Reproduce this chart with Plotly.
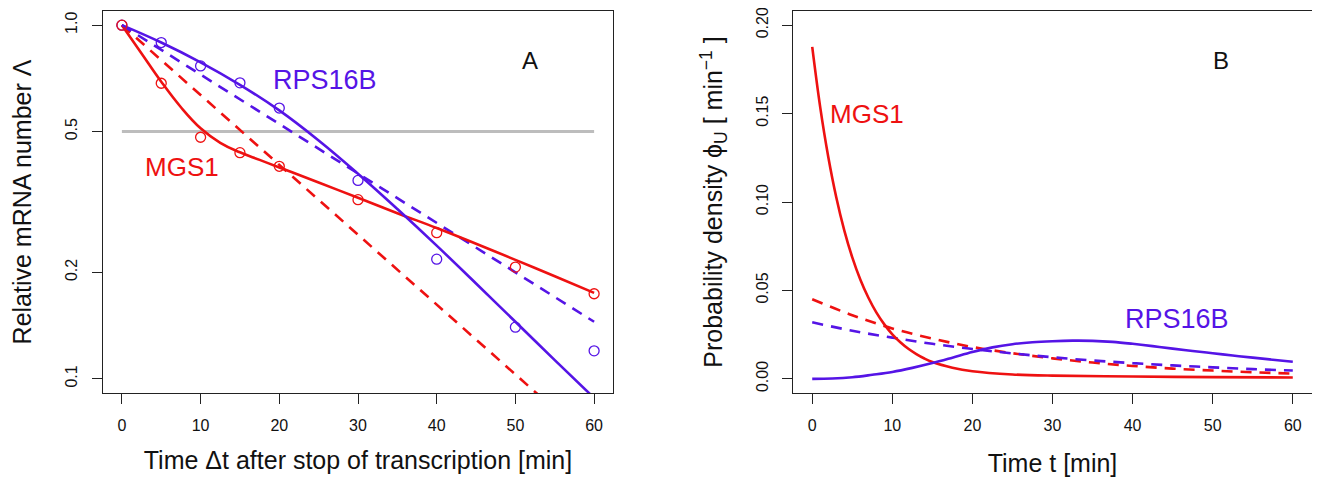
import plotly.graph_objects as go

# ---------------- Panel A data (relative mRNA number, log scale) ----------------
t_obs = [0, 5, 10, 15, 20, 30, 40, 50, 60]
mgs1_obs = [1.0, 0.685, 0.482, 0.436, 0.399, 0.321, 0.259, 0.207, 0.174]
rps_obs = [1.0, 0.893, 0.767, 0.687, 0.583, 0.364, 0.218, 0.140, 0.120]

t_mgs1_fit = [0, 2.5, 5, 7.5, 10, 12.5, 15, 17.5, 20, 25, 30, 35, 40, 45, 50, 55, 60]
mgs1_fit = [1.0, 0.832, 0.692, 0.586, 0.511, 0.465, 0.437, 0.416, 0.396, 0.359, 0.325,
            0.294, 0.267, 0.241, 0.217, 0.195, 0.175]
t_rps_fit = [0, 5, 10, 15, 20, 25, 30, 35, 40, 45, 50, 55, 60]
rps_fit = [1.0, 0.893, 0.785, 0.678, 0.574, 0.472, 0.380, 0.302, 0.238, 0.186, 0.145,
           0.113, 0.0883]

t_exp = [0, 60]
mgs1_exp = [1.0, 0.0653]
rps_exp = [1.0, 0.145]

half_t = [0, 60]
half_y = [0.5, 0.5]

# ---------------- Panel B data (probability density) ----------------
t_mgs1_pdf = [0, 1, 2, 3, 4, 5, 6, 7, 8, 9, 10, 11, 12, 13, 14, 15, 17.5, 20, 25, 30,
              40, 50, 60]
mgs1_pdf = [0.1877, 0.1535, 0.1256, 0.1027, 0.0840, 0.0687, 0.0562, 0.0460, 0.0376,
            0.0308, 0.0252, 0.0207, 0.0170, 0.0140, 0.0115, 0.0095, 0.0063, 0.0043,
            0.0025, 0.0018, 0.0013, 0.0010, 0.0008]
t_rps_pdf = [0, 2.5, 5, 7.5, 10, 12.5, 15, 17.5, 20, 22.5, 25, 27.5, 30, 32.5, 35,
             37.5, 40, 42.5, 45, 47.5, 50, 52.5, 55, 57.5, 60]
rps_pdf = [0.0, 0.0002, 0.0009, 0.0023, 0.0039, 0.0062, 0.0089, 0.0120, 0.0152,
           0.0178, 0.0196, 0.0207, 0.0213, 0.0216, 0.0215, 0.0209, 0.0198, 0.0185,
           0.0171, 0.0157, 0.0145, 0.0132, 0.0120, 0.0108, 0.0097]
t_exp_pdf = [0, 5, 10, 15, 20, 25, 30, 35, 40, 45, 50, 55, 60]
mgs1_exp_pdf = [0.045, 0.036, 0.0285, 0.0228, 0.018, 0.0145, 0.0116, 0.0092, 0.0073,
                0.0058, 0.0047, 0.0037, 0.003]
rps_exp_pdf = [0.032, 0.0272, 0.0233, 0.0198, 0.0169, 0.0144, 0.0122, 0.0104,
               0.0089, 0.0076, 0.0065, 0.0055, 0.0047]

x_ticks = [0, 10, 20, 30, 40, 50, 60]
ya_ticks = [0.1, 0.2, 0.5, 1.0]
ya_text = ["0.1", "0.2", "0.5", "1.0"]
yb_ticks = [0.0, 0.05, 0.10, 0.15, 0.20]
yb_text = ["0.00", "0.05", "0.10", "0.15", "0.20"]

RED = "#ee1111"
BLUE = "#5514e6"
GRAY = "#bdbdbd"
FONT = "Liberation Sans, Arial, sans-serif"
DASH = "11px,8px"
LW = 2.6

fig = go.Figure()

# Panel A
fig.add_trace(go.Scatter(x=half_t, y=half_y, mode="lines",
                         line=dict(color=GRAY, width=3), xaxis="x", yaxis="y"))
fig.add_trace(go.Scatter(x=t_exp, y=mgs1_exp, mode="lines",
                         line=dict(color=RED, width=LW, dash=DASH), xaxis="x", yaxis="y"))
fig.add_trace(go.Scatter(x=t_exp, y=rps_exp, mode="lines",
                         line=dict(color=BLUE, width=LW, dash=DASH), xaxis="x", yaxis="y"))
fig.add_trace(go.Scatter(x=t_mgs1_fit, y=mgs1_fit, mode="lines",
                         line=dict(color=RED, width=LW, shape="spline", smoothing=1.2),
                         xaxis="x", yaxis="y"))
fig.add_trace(go.Scatter(x=t_rps_fit, y=rps_fit, mode="lines",
                         line=dict(color=BLUE, width=LW, shape="spline", smoothing=1.2),
                         xaxis="x", yaxis="y"))
fig.add_trace(go.Scatter(x=t_obs, y=rps_obs, mode="markers",
                         marker=dict(symbol="circle-open", size=10, color=BLUE,
                                     line=dict(width=1.3, color=BLUE)),
                         xaxis="x", yaxis="y"))
fig.add_trace(go.Scatter(x=t_obs, y=mgs1_obs, mode="markers",
                         marker=dict(symbol="circle-open", size=10, color=RED,
                                     line=dict(width=1.3, color=RED)),
                         xaxis="x", yaxis="y"))

# Panel B
fig.add_trace(go.Scatter(x=t_exp_pdf, y=mgs1_exp_pdf, mode="lines",
                         line=dict(color=RED, width=LW, dash=DASH, shape="spline"),
                         xaxis="x2", yaxis="y2"))
fig.add_trace(go.Scatter(x=t_exp_pdf, y=rps_exp_pdf, mode="lines",
                         line=dict(color=BLUE, width=LW, dash=DASH, shape="spline"),
                         xaxis="x2", yaxis="y2"))
fig.add_trace(go.Scatter(x=t_mgs1_pdf, y=mgs1_pdf, mode="lines",
                         line=dict(color=RED, width=LW, shape="spline"),
                         xaxis="x2", yaxis="y2"))
fig.add_trace(go.Scatter(x=t_rps_pdf, y=rps_pdf, mode="lines",
                         line=dict(color=BLUE, width=LW, shape="spline"),
                         xaxis="x2", yaxis="y2"))

axis_common = dict(showgrid=False, zeroline=False, showline=True, linecolor="#222",
                   linewidth=1.2, mirror=True, ticks="outside", ticklen=10,
                   tickwidth=1.1, tickcolor="#222", ticklabeloverflow="allow",
                   automargin=False,
                   tickfont=dict(family=FONT, size=16, color="#111"))

# The page body adds an 8px offset, so domains are shifted by 8px up/left.
fig.update_layout(
    width=1320, height=480,
    margin=dict(l=0, r=0, t=0, b=0),
    paper_bgcolor="white", plot_bgcolor="white",
    showlegend=False,
    font=dict(family=FONT, color="#111"),
    xaxis=dict(domain=[0.07197, 0.45833], range=[-2.4, 62.4], tickvals=x_ticks,
               anchor="y", ticklabelstandoff=8,
               title=dict(text="Time Δt after stop of transcription [min]",
                          font=dict(size=25), standoff=18),
               **axis_common),
    yaxis=dict(domain=[0.19792, 0.99375], type="log", range=[-1.04, 0.04],
               tickvals=ya_ticks, ticktext=ya_text, tickangle=-90, anchor="x",
               ticklabelstandoff=9,
               title=dict(text="Relative mRNA number Λ", font=dict(size=25), standoff=26),
               **axis_common),
    xaxis2=dict(domain=[0.59470, 0.98788], range=[-2.4, 62.4], tickvals=x_ticks,
                anchor="y2", ticklabelstandoff=8,
                title=dict(text="Time t [min]", font=dict(size=25), standoff=21),
                **axis_common),
    yaxis2=dict(domain=[0.19792, 0.99375], range=[-0.008, 0.208],
                tickvals=yb_ticks, ticktext=yb_text, tickangle=-90, anchor="x2",
                ticklabelstandoff=8,
                title=dict(text="Probability density ϕ<sub>U</sub> [ min<sup>−1</sup> ]",
                           font=dict(size=25), standoff=23),
                **axis_common),
)

ann = [
    dict(x=51.8, y=-0.099, xref="x", yref="y", text="A", font_size=24, font_color="#111"),
    dict(x=25.8, y=-0.156, xref="x", yref="y", text="RPS16B", font_size=27, font_color=BLUE),
    dict(x=7.6, y=-0.402, xref="x", yref="y", text="MGS1", font_size=26, font_color=RED),
    dict(x=51.0, y=0.180, xref="x2", yref="y2", text="B", font_size=24, font_color="#111"),
    dict(x=6.9, y=0.150, xref="x2", yref="y2", text="MGS1", font_size=26, font_color=RED),
    dict(x=45.5, y=0.034, xref="x2", yref="y2", text="RPS16B", font_size=27, font_color=BLUE),
]
for a in ann:
    fig.add_annotation(showarrow=False, font_family=FONT, **a)

fig.write_html("out.html")
